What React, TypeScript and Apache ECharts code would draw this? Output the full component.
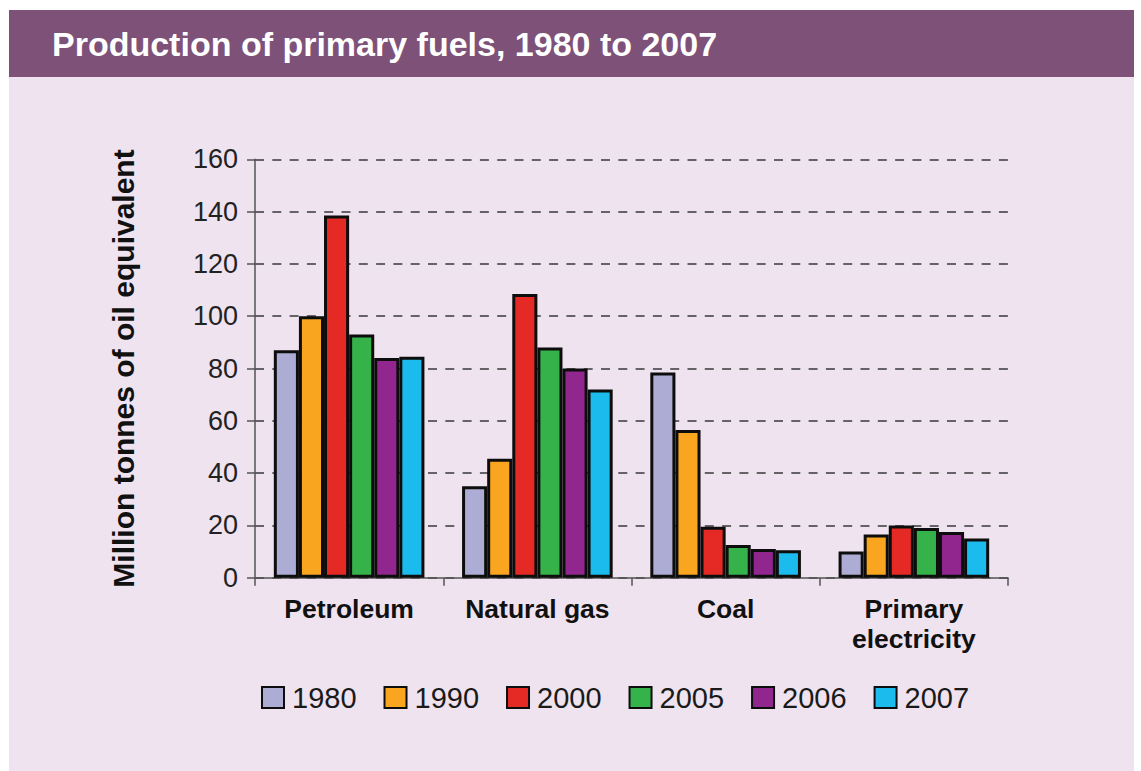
import React, { useEffect, useRef } from "react";
import * as echarts from "echarts";

const titleText = "Production of primary fuels, 1980 to 2007";
const yAxisName = "Million tonnes of oil equivalent";
const categories = ["Petroleum", "Natural gas", "Coal", "Primary\nelectricity"];
const years = ["1980", "1990", "2000", "2005", "2006", "2007"];
const v1980 = [87, 35, 78.5, 10];
const v1990 = [100, 45.5, 56.5, 16.5];
const v2000 = [138.5, 108.5, 19.5, 20];
const v2005 = [93, 88, 12.5, 19];
const v2006 = [84, 80, 11, 17.5];
const v2007 = [84.5, 72, 10.5, 15];
const seriesValues = [v1980, v1990, v2000, v2005, v2006, v2007];
const colors = ["#acacd5", "#f9a51f", "#e52a25", "#35b34a", "#91278e", "#1bbced"];

export default function App() {
  const ref = useRef<HTMLDivElement>(null);
  useEffect(() => {
    if (!ref.current) return;
    const chart = echarts.init(ref.current, null, { renderer: "svg" });
    const font = "'Liberation Sans', Arial, Helvetica, sans-serif";
    chart.setOption({
      animation: false,
      textStyle: { fontFamily: font },
      graphic: [
        {
          type: "rect",
          z: -10,
          silent: true,
          shape: { x: 9, y: 76, width: 1125, height: 695 },
          style: { fill: "#efe3ef" },
        },
        {
          type: "rect",
          z: -10,
          silent: true,
          shape: { x: 9, y: 10, width: 1125, height: 67 },
          style: { fill: "#7e5179" },
        },
        {
          type: "text",
          x: 52,
          y: 44,
          style: {
            text: titleText,
            fill: "#ffffff",
            fontSize: 34,
            fontWeight: "bold",
            fontFamily: font,
            verticalAlign: "middle",
            align: "left",
          },
        },
      ],
      grid: { left: 255, right: 133, top: 159.3, bottom: 193.3 },
      legend: {
        data: years,
        left: 261,
        top: 683,
        padding: 0,
        itemWidth: 22,
        itemHeight: 21,
        itemGap: 27,
        icon: "rect",
        textStyle: {
          fontSize: 29,
          lineHeight: 29,
          color: "#1a1a1a",
          fontFamily: font,
          padding: [0, 0, 0, 3],
        },
      },
      xAxis: {
        type: "category",
        data: categories,
        axisLine: { lineStyle: { color: "#555", width: 1.5 } },
        axisTick: { show: true, length: 8, lineStyle: { color: "#555", width: 1.5 } },
        axisLabel: {
          fontSize: 26.5,
          fontWeight: "bold",
          color: "#111",
          lineHeight: 30,
          margin: 16,
          fontFamily: font,
        },
        splitLine: { show: false },
      },
      yAxis: {
        type: "value",
        min: 0,
        max: 160,
        interval: 20,
        name: yAxisName,
        nameLocation: "middle",
        nameRotate: 90,
        nameGap: 117,
        nameTextStyle: { fontSize: 30, fontWeight: "bold", color: "#111", fontFamily: font },
        axisLine: { show: true, lineStyle: { color: "#555", width: 1.5 } },
        axisTick: { show: true, length: 8, lineStyle: { color: "#555", width: 1.5 } },
        axisLabel: { fontSize: 27, color: "#222", margin: 17, fontFamily: font },
        splitLine: {
          show: true,
          lineStyle: { color: "#3a3a3a", width: 1.5, type: [9, 8.3] },
        },
      },
      series: years.map((y, i) => ({
        name: y,
        type: "bar",
        data: seriesValues[i],
        barGap: "0%",
        barCategoryGap: "20%",
        itemStyle: { color: colors[i], borderColor: "#0d0d0d", borderWidth: 3 },
      })),
    });
    return () => chart.dispose();
  }, []);
  return (
    <div
      ref={ref}
      style={{ position: "fixed", left: 0, top: 0, width: 1141, height: 771, background: "#ffffff" }}
    />
  );
}
